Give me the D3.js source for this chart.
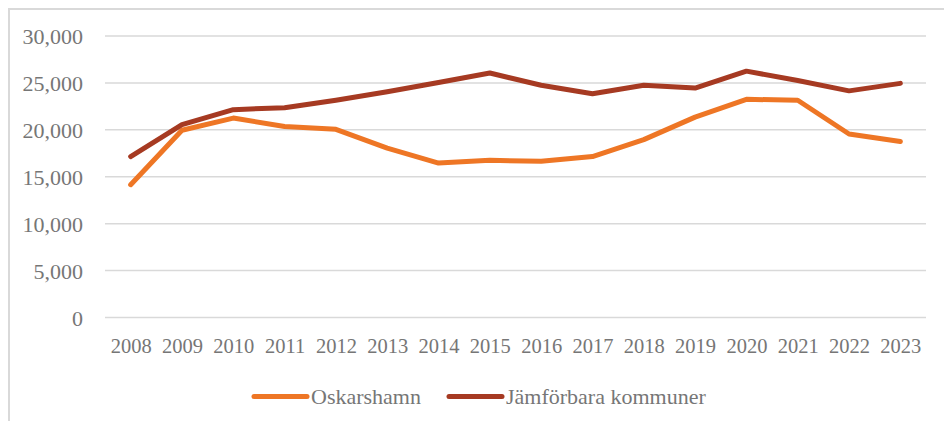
<!DOCTYPE html>
<html>
<head>
<meta charset="utf-8">
<script src="https://cdn.jsdelivr.net/npm/d3@7"></script>
<style>
	body { margin: 0; background: #fff; }
	svg text { font-family: "Liberation Serif", "Times New Roman", "DejaVu Serif", serif; }
</style>
</head>
<body>
<svg id="chart" width="944" height="421"></svg>
<script>
const years = ["2008", "2009", "2010", "2011", "2012", "2013", "2014", "2015",
	"2016", "2017", "2018", "2019", "2020", "2021", "2022", "2023"];

const oskarshamn = [14100, 19900, 21200, 20300, 20000, 18000, 16400, 16700,
	16600, 17100, 18900, 21300, 23200, 23100, 19500, 18700];

const jamforbara = [17100, 20500, 22100, 22300, 23100, 24000, 25000, 26000,
	24700, 23800, 24700, 24400, 26200, 25200, 24100, 24900];

const yTicks = [0, 5000, 10000, 15000, 20000, 25000, 30000];

const seriesNames = ["Oskarshamn", "Jämförbara kommuner"];
const seriesColors = ["#ee7625", "#a63a22"];

const svg = d3.select("#chart");
const textColor = "#767676";

// outer frame (only top and left edges are visible)
svg.append("rect")
	.attr("x", 9).attr("y", 9)
	.attr("width", 1200).attr("height", 1200)
	.attr("fill", "none")
	.attr("stroke", "#d9d9d9")
	.attr("stroke-width", 2);

const plot = { left: 105, right: 926, top: 35.5, bottom: 317 };

const x = d3.scalePoint()
	.domain(years)
	.range([plot.left, plot.right])
	.padding(0.5);

const y = d3.scaleLinear()
	.domain([0, 30000])
	.range([plot.bottom, plot.top]);

// y axis with gridlines
const yAxis = svg.append("g")
	.attr("transform", "translate(" + plot.left + ",0)")
	.call(d3.axisLeft(y)
		.tickValues(yTicks)
		.tickSize(-(plot.right - plot.left))
		.tickPadding(22)
		.tickFormat(d3.format(",")));

yAxis.attr("font-family", null);
yAxis.select(".domain").remove();
yAxis.selectAll(".tick line")
	.attr("stroke", "#d9d9d9")
	.attr("stroke-width", 1.5);
yAxis.selectAll(".tick text")
	.attr("fill", textColor)
	.attr("font-size", 22)
	.attr("dy", "0.38em");

// x axis labels
const xAxis = svg.append("g")
	.attr("transform", "translate(0," + plot.bottom + ")")
	.call(d3.axisBottom(x).tickSize(0).tickPadding(21));

xAxis.attr("font-family", null);
xAxis.select(".domain").remove();
xAxis.selectAll(".tick text")
	.attr("fill", textColor)
	.attr("font-size", 20.5);

// lines
const line = d3.line()
	.x((d, i) => x(years[i]))
	.y(d => y(d));

[oskarshamn, jamforbara].forEach((values, i) => {
	svg.append("path")
		.datum(values)
		.attr("d", line)
		.attr("fill", "none")
		.attr("stroke", seriesColors[i])
		.attr("stroke-width", 5)
		.attr("stroke-linejoin", "round")
		.attr("stroke-linecap", "round");
});

// legend
const legendX = [254, 449];
const legendY = 396.5;

const legend = svg.append("g");
seriesNames.forEach((name, i) => {
	legend.append("line")
		.attr("x1", legendX[i]).attr("x2", legendX[i] + 53)
		.attr("y1", legendY).attr("y2", legendY)
		.attr("stroke", seriesColors[i])
		.attr("stroke-width", 5)
		.attr("stroke-linecap", "round");
	legend.append("text")
		.attr("x", legendX[i] + 57)
		.attr("y", legendY)
		.attr("dy", "0.35em")
		.attr("fill", textColor)
		.attr("font-size", 22)
		.text(name);
});
</script>
</body>
</html>
